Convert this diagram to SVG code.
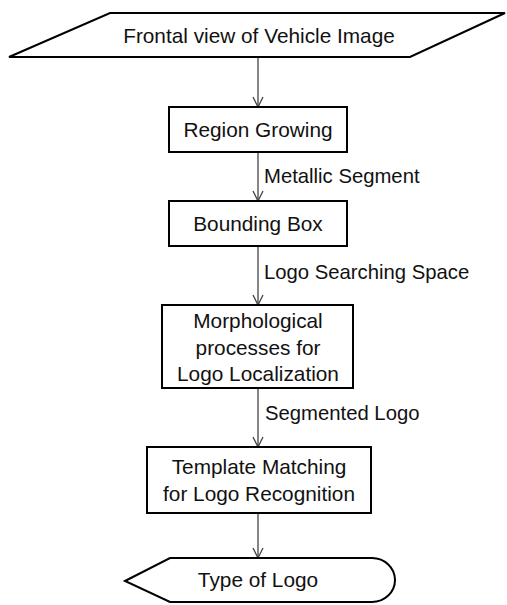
<svg xmlns="http://www.w3.org/2000/svg" width="507" height="605" viewBox="0 0 507 605">
<defs>
<style>
.shape{fill:#fff;stroke:#000;stroke-width:2}
.t{font-family:"Liberation Sans",Arial,sans-serif;font-size:20.8px;fill:#111;text-anchor:middle}
.lbl{font-family:"Liberation Sans",Arial,sans-serif;font-size:20.3px;fill:#111;text-anchor:start}
.conn{stroke:#444;stroke-width:1.3;fill:none;marker-end:url(#arr)}
</style>
<marker id="arr" viewBox="0 0 12 12" refX="11" refY="6" markerWidth="12" markerHeight="12" markerUnits="userSpaceOnUse" orient="auto">
<path d="M1,1 L11,6 L1,11" fill="none" stroke="#444" stroke-width="1.3"/>
</marker>
</defs>
<rect width="507" height="605" fill="#fff"/>
<g id="connectors">
<line class="conn" x1="258" y1="57" x2="258" y2="107"/>
<line class="conn" x1="258" y1="152" x2="258" y2="201"/>
<line class="conn" x1="258" y1="246" x2="258" y2="305"/>
<line class="conn" x1="258" y1="388" x2="258" y2="447"/>
<line class="conn" x1="258" y1="513" x2="258" y2="558"/>
<text class="lbl" x="264" y="183">Metallic Segment</text>
<text class="lbl" x="264" y="279">Logo Searching Space</text>
<text class="lbl" x="265" y="420">Segmented Logo</text>
</g>
<g id="input">
<polygon class="shape" points="110,13 505,13 410,57 9,57"/>
<text class="t" x="259" y="43">Frontal view of Vehicle Image</text>
</g>
<g id="region-growing">
<rect class="shape" x="169" y="107" width="178" height="45"/>
<text class="t" x="258" y="137">Region Growing</text>
</g>
<g id="bounding-box">
<rect class="shape" x="169" y="201" width="178" height="45"/>
<text class="t" x="258" y="231">Bounding Box</text>
</g>
<g id="morphological">
<rect class="shape" x="162" y="305" width="191" height="83"/>
<text class="t" x="258" y="328">Morphological</text>
<text class="t" x="258" y="355">processes for</text>
<text class="t" x="258" y="381">Logo Localization</text>
</g>
<g id="template-matching">
<rect class="shape" x="147" y="447" width="224" height="66"/>
<text class="t" x="259" y="474">Template Matching</text>
<text class="t" x="259" y="501">for Logo Recognition</text>
</g>
<g id="output">
<path class="shape" d="M125,581 L170,558 L372,558 A23,22 0 0 1 372,602 L170,602 Z"/>
<text class="t" x="258" y="587">Type of Logo</text>
</g>
</svg>
